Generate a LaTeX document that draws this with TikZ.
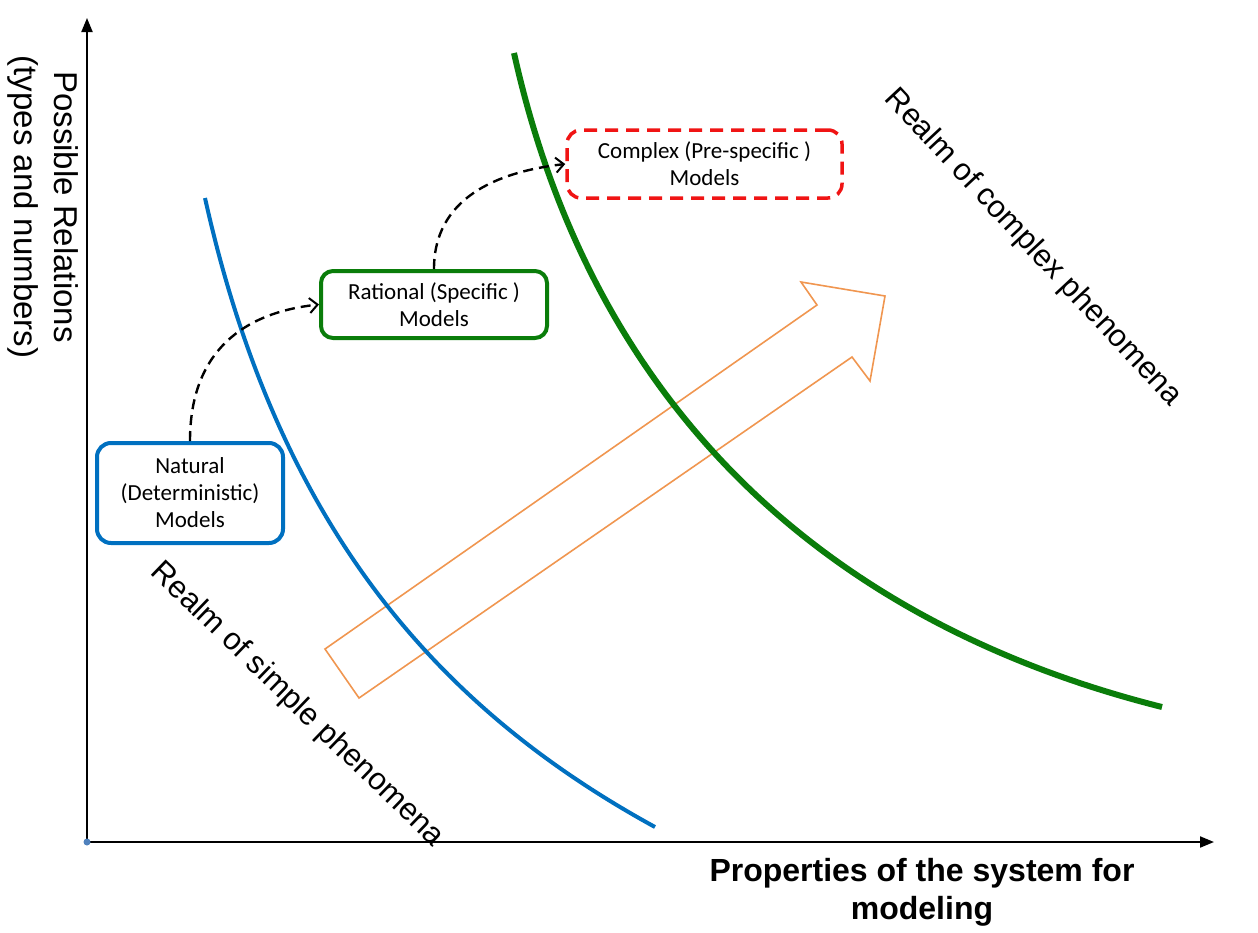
\documentclass[tikz,border=0pt]{standalone}
\usepackage{fontspec}
\setmainfont{Liberation Sans}
\newfontfamily\calib{Carlito}
\usetikzlibrary{arrows.meta}
\definecolor{cblue}{RGB}{0,112,192}
\definecolor{cgreen}{RGB}{10,125,10}
\definecolor{cred}{RGB}{240,20,20}
\definecolor{corange}{RGB}{240,150,80}
\definecolor{cdot}{RGB}{79,129,189}
\begin{document}
\begin{tikzpicture}[x=1pt,y=-1pt,
  modelbox/.style={rounded corners=14pt, align=center, inner sep=0pt,
    font=\calib\fontsize{23}{27}\selectfont},
  axisline/.style={line width=2pt, -{Triangle[length=14pt,width=11pt]}},
  realm/.style={font=\fontsize{31}{36}\selectfont, inner sep=0pt},
  flow/.style={line width=2.4pt, dash pattern=on 10pt off 6pt,
    -{Straight Barb[length=8pt,width=15pt,line width=2pt]}},
  bigarrow/.style={draw=corange, line width=1.6pt, line join=miter}]
\useasboundingbox (0,0) rectangle (1258,932);

% axes
\coordinate (O) at (87,842);
\coordinate (ytop) at (87,18);
\coordinate (xend) at (1214,842);
\draw[axisline] (O) -- (ytop);
\draw[axisline] (O) -- (xend);
\fill[cdot] (O) circle (3.5pt);

% axis labels
\node[rotate=-90, align=center, font=\fontsize{33}{40}\selectfont, inner sep=0pt] (ylab) at (43,207)
  {Possible Relations\\(types and numbers)};
\node[align=center, font=\bfseries\fontsize{32}{38}\selectfont, inner sep=0pt] (xlab) at (922,892)
  {Properties of the system for\\modeling};

% orange outline arrow
\draw[bigarrow] (325,649) -- (817,305) -- (801,282) -- (885,296) -- (870,381) -- (852,357) -- (359,698) -- cycle;

% blue curve (simple)
\draw[cblue, line width=4pt] (205,198) .. controls (280,535) and (445,712) .. (655,827);

% green curve (complex)
\draw[cgreen, line width=6pt] (514,53) .. controls (594,413) and (832,624) .. (1162,707);

% model boxes
\node[modelbox, draw=cblue, line width=4pt, fill=white, minimum width=186pt, minimum height=100pt] (nat) at (190,493)
  {Natural\\(Deterministic)\\Models};
\node[modelbox, draw=cgreen, line width=4pt, fill=white, rounded corners=12pt, minimum width=226pt, minimum height=67pt] (rat) at (434,304.5)
  {Rational (Specific )\\Models};
\node[modelbox, draw=cred, line width=3.5pt, dash pattern=on 13pt off 8pt, minimum width=275pt, minimum height=68pt] (comp) at (704.5,164)
  {Complex (Pre-specific )\\Models};

% dashed transitions
\draw[flow] (nat.north) .. controls +(0,-90) and +(-75,8) .. (rat.west);
\draw[flow] (rat.north) .. controls +(0,-70) and +(-70,8) .. (comp.west);

% realm labels
\node[realm, rotate=-44] (simple) at (297,705) {Realm of simple phenomena};
\node[realm, rotate=-47] (complex) at (1033,248) {Realm of complex phenomena};
\end{tikzpicture}
\end{document}
